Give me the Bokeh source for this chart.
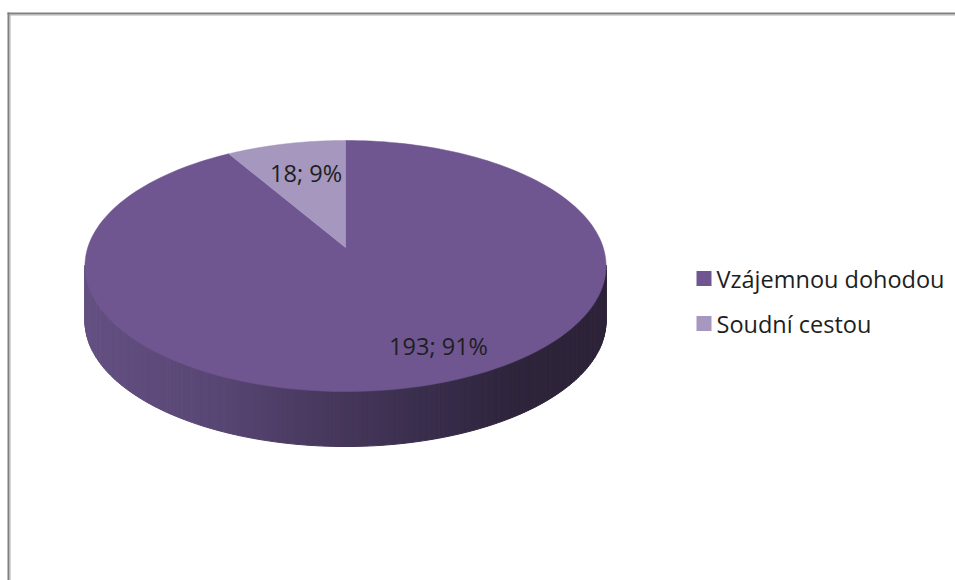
import numpy as np
from bokeh.plotting import figure
from bokeh.models import Range1d
from bokeh.core.properties import value
from bokeh.embed import file_html
from bokeh.resources import INLINE

# ---- data ----
categories = ["Vzájemnou dohodou", "Soudní cestou"]
counts = [193, 18]
top_colors = ["#6f5690", "#a597be"]

total = sum(counts)
labels = [f"{c}; {round(100 * c / total)}%" for c in counts]

# ---- geometry (page pixel coordinates) ----
CX, CY = 345.0, 247.0       # projected pie centre
A, B, K = 122.8, 257.7, 0.1474  # perspective projection of the disc
DEPTH = 55.0

def proj(theta_deg, r=1.0):
    t = np.radians(theta_deg)
    u = r * np.sin(t)
    v = r * np.cos(t)
    d = 1 + K * v
    return CX + B * u / d, CY - A * v / d

W, H = 955, 580
p = figure(width=W, height=H, x_range=Range1d(0, W), y_range=Range1d(H, 0),
           output_backend="svg", toolbar_location=None, min_border=0,
           x_axis_location=None, y_axis_location=None)
p.grid.visible = False
p.outline_line_color = None
p.background_fill_color = "white"
p.border_fill_color = "white"

# chart-area border
p.line([8, 8], [12, 600], line_color="#808080", line_width=2)
p.line([9.5, 9.5], [13, 600], line_color="#b0b0b0", line_width=1)
p.line([7, 970], [13, 13], line_color="#808080", line_width=2)
p.line([9, 970], [14.5, 14.5], line_color="#b0b0b0", line_width=1)

# ---- side of the pie (front rim, shaded gradient) ----
stops_f = [0.0, 0.25, 0.45, 0.7, 0.82, 1.0]
stops_c = [(100, 80, 130), (88, 70, 116), (72, 57, 94), (54, 43, 72), (46, 36, 59), (45, 35, 56)]
th_start = np.degrees(np.arccos(-K))
th_end = 360 - th_start
N = 160
ths = np.linspace(th_start, th_end, N + 1)
x_left = CX - B / np.sqrt(1 - K * K)
span = 2 * B / np.sqrt(1 - K * K)
xs_all, ys_all, cols = [], [], []
for i in range(N):
    x0, y0 = proj(ths[i])
    x1, y1 = proj(ths[i + 1])
    xs_all.append([x0, x1, x1, x0])
    ys_all.append([y0 - 1, y1 - 1, y1 + DEPTH, y0 + DEPTH])
    f = min(max(((x0 + x1) / 2 - x_left) / span, 0), 1)
    rgb = [int(round(np.interp(f, stops_f, [c[j] for c in stops_c]))) for j in range(3)]
    cols.append("#%02x%02x%02x" % tuple(rgb))
p.patches(xs_all, ys_all, fill_color=cols, line_color=cols, line_width=1)

# ---- top face ----
starts = np.concatenate([[0], np.cumsum(counts)[:-1]]) / total * 360
ends = np.cumsum(counts) / total * 360
for s, e, col in zip(starts, ends, top_colors):
    t = np.linspace(s, e, 200)
    px, py = proj(t)
    xs = np.concatenate([[CX], px])
    ys = np.concatenate([[CY], py])
    p.patch(xs, ys, fill_color=col, line_color=col, line_width=0.5)

# ---- data labels ----
mids = (starts + ends) / 2
lx, ly = proj(mids, 0.7)
p.text(x=lx, y=ly, text=labels, x_offset=[40, 4], y_offset=[6, 1],
       text_align="center", text_baseline="middle",
       text_font=value("Open Sans"), text_font_size="23.5px", text_color="#1e1e1e")

# ---- legend ----
leg_y = [278, 323]
leg_x = [703.5, 703.5]
p.rect(x=leg_x, y=leg_y, width=15, height=15, fill_color=top_colors, line_color=None)
p.text(x=[716, 716], y=leg_y, text=categories, text_align="left", text_baseline="middle",
       text_font=value("Open Sans"), text_font_size="23.5px", text_color="#1e1e1e")

open("out.html", "w").write(file_html(p, INLINE))
